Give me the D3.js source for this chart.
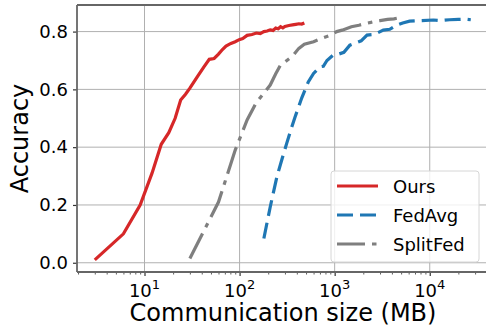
<!DOCTYPE html>
<html>
<head>
<meta charset="utf-8">
<script src="https://cdn.jsdelivr.net/npm/d3@7"></script>
<style>
  body { margin: 0; background: #fff; }
  svg { display: block; font-family: "DejaVu Sans", sans-serif; }
</style>
</head>
<body>
<div id="chart"></div>
<script>
// Communication size (MB) vs accuracy
const seriesNames = ['Ours', 'FedAvg', 'SplitFed'];

const oursMB  = [3, 6, 9, 12, 15, 18, 21, 24, 27, 30, 36, 42, 48, 54, 60, 66, 72, 81, 90, 99,
                 108, 120, 135, 150, 165, 180, 195, 210, 225, 240, 255, 270, 285, 300, 330, 360, 390, 420, 450, 480];
const oursAcc = [0.01, 0.10, 0.20, 0.31, 0.41, 0.45, 0.50, 0.563, 0.583, 0.604, 0.644, 0.677, 0.704, 0.707, 0.722, 0.738, 0.75, 0.759, 0.765, 0.772,
                 0.776, 0.787, 0.79, 0.795, 0.793, 0.80, 0.802, 0.806, 0.804, 0.812, 0.81, 0.817, 0.813, 0.818, 0.821, 0.823, 0.825, 0.827, 0.826, 0.83];

const fedAvgMB  = [180, 210, 247, 280, 313, 350, 384, 450, 528, 600, 701, 760, 830, 968, 1100, 1250, 1445, 1700, 1900, 2190,
                   2600, 3250, 3800, 4460, 5200, 6140, 8000, 10900, 13000, 16200, 20000, 24000, 27000];
const fedAvgAcc = [0.084, 0.193, 0.298, 0.36, 0.413, 0.465, 0.505, 0.57, 0.626, 0.655, 0.678, 0.68, 0.70, 0.719, 0.722, 0.728, 0.753, 0.762, 0.768, 0.788,
                   0.79, 0.805, 0.808, 0.822, 0.83, 0.836, 0.838, 0.84, 0.838, 0.841, 0.842, 0.843, 0.841];

const splitFedMB  = [30, 60, 90, 120, 150, 180, 210, 240, 270, 300, 360, 420, 480, 600, 750, 900, 1050, 1200, 1500, 1800,
                     2100, 2400, 2700, 3000, 3600, 4200, 4500];
const splitFedAcc = [0.015, 0.21, 0.39, 0.494, 0.555, 0.587, 0.615, 0.654, 0.685, 0.695, 0.715, 0.742, 0.756, 0.765, 0.778, 0.787, 0.80, 0.805, 0.817, 0.822,
                     0.828, 0.832, 0.836, 0.838, 0.842, 0.844, 0.846];

const xMajorTicks = [10, 100, 1000, 10000];
const yTicks = [0.0, 0.2, 0.4, 0.6, 0.8];

const width = 486, height = 327;
const margin = { top: 5, right: -3, bottom: 55, left: 77 };

const svg = d3.select('#chart').append('svg')
  .attr('width', width)
  .attr('height', height);

svg.append('rect').attr('width', width).attr('height', height).attr('fill', '#fff');

const x = d3.scaleLog()
  .domain([1.95, 42000])
  .range([margin.left, width - margin.right]);

const y = d3.scaleLinear()
  .domain([-0.032, 0.892])
  .range([height - margin.bottom, margin.top]);

const x0 = margin.left, x1 = width - margin.right;
const y0 = height - margin.bottom, y1 = margin.top;

// grid
svg.append('g').selectAll('line').data(xMajorTicks).join('line')
  .attr('x1', d => x(d)).attr('x2', d => x(d))
  .attr('y1', y0).attr('y2', y1)
  .attr('stroke', '#b0b0b0').attr('stroke-width', 1);
svg.append('g').selectAll('line').data(yTicks).join('line')
  .attr('x1', x0).attr('x2', x1)
  .attr('y1', d => y(d)).attr('y2', d => y(d))
  .attr('stroke', '#b0b0b0').attr('stroke-width', 1);

// axes
const minorTicks = [];
for (let e = 0; e <= 4; e++) {
  for (let m = 2; m <= 9; m++) {
    const v = m * Math.pow(10, e);
    if (v >= x.domain()[0] && v <= x.domain()[1]) minorTicks.push(v);
  }
}

const xAxis = svg.append('g')
  .attr('transform', `translate(0,${y0})`)
  .call(d3.axisBottom(x).tickValues(xMajorTicks).tickSize(4).tickFormat(''));
xAxis.select('.domain').remove();
xAxis.selectAll('.tick line').attr('stroke', '#333').attr('stroke-width', 1.2);

const xMinor = svg.append('g')
  .attr('transform', `translate(0,${y0})`)
  .call(d3.axisBottom(x).tickValues(minorTicks).tickSize(2.5).tickFormat(''));
xMinor.select('.domain').remove();
xMinor.selectAll('.tick line').attr('stroke', '#333').attr('stroke-width', 0.8);

// x tick labels as 10^n
const xLab = svg.append('g').selectAll('text').data(xMajorTicks).join('text')
  .attr('x', d => x(d))
  .attr('y', y0 + 25)
  .attr('text-anchor', 'middle')
  .attr('font-size', 18)
  .attr('fill', '#000');
xLab.append('tspan').text('10');
xLab.append('tspan').attr('dy', -8).attr('font-size', 13).text(d => Math.round(Math.log10(d)));

const yAxis = svg.append('g')
  .attr('transform', `translate(${x0},0)`)
  .call(d3.axisLeft(y).tickValues(yTicks).tickSize(4).tickPadding(5).tickFormat(d3.format('.1f')));
yAxis.select('.domain').remove();
yAxis.selectAll('.tick line').attr('stroke', '#333').attr('stroke-width', 1.2);
yAxis.selectAll('.tick text')
  .attr('font-size', 18)
  .attr('font-family', '"DejaVu Sans", sans-serif')
  .attr('fill', '#000');

// spines
svg.append('line').attr('x1', x0).attr('x2', x0).attr('y1', y0).attr('y2', y1)
  .attr('stroke', '#666').attr('stroke-width', 1.8);
svg.append('line').attr('x1', x0).attr('x2', x1).attr('y1', y0).attr('y2', y0)
  .attr('stroke', '#666').attr('stroke-width', 1.8);
svg.append('line').attr('x1', x0).attr('x2', x1).attr('y1', y1).attr('y2', y1)
  .attr('stroke', '#666').attr('stroke-width', 1.8);

// labels
svg.append('text')
  .attr('x', (x0 + 489) / 2)
  .attr('y', 321)
  .attr('text-anchor', 'middle')
  .attr('font-size', 24)
  .text('Communication size (MB)');

svg.append('text')
  .attr('transform', `translate(28,${(y0 + y1) / 2}) rotate(-90)`)
  .attr('text-anchor', 'middle')
  .attr('font-size', 24)
  .text('Accuracy');

// lines
const series = [
  { name: 'Ours', xs: oursMB, ys: oursAcc, color: '#d62728', dash: null },
  { name: 'FedAvg', xs: fedAvgMB, ys: fedAvgAcc, color: '#1f77b4', dash: '16,7' },
  { name: 'SplitFed', xs: splitFedMB, ys: splitFedAcc, color: '#7f7f7f', dash: '28,7,4.5,7' }
];

const line = d3.line()
  .x(d => x(d[0]))
  .y(d => y(d[1]));

series.forEach(s => {
  svg.append('path')
    .datum(s.xs.map((v, i) => [v, s.ys[i]]))
    .attr('d', line)
    .attr('fill', 'none')
    .attr('stroke', s.color)
    .attr('stroke-width', 3.2)
    .attr('stroke-dasharray', s.dash);
});

// legend
const legend = svg.append('g');
legend.append('rect')
  .attr('x', 331).attr('y', 171)
  .attr('width', 148).attr('height', 91)
  .attr('rx', 3)
  .attr('fill', '#fff').attr('fill-opacity', 0.8)
  .attr('stroke', '#d6d6d6').attr('stroke-width', 1);

const rows = legend.selectAll('g.row').data(series).join('g')
  .attr('transform', (d, i) => `translate(0,${186 + i * 29})`);
rows.append('line')
  .attr('x1', 337).attr('x2', 378)
  .attr('stroke', d => d.color)
  .attr('stroke-width', 3.2)
  .attr('stroke-dasharray', d => d.dash);
rows.append('text')
  .attr('x', 393).attr('y', 6.5)
  .attr('font-size', 18)
  .text(d => d.name);
</script>
</body>
</html>
